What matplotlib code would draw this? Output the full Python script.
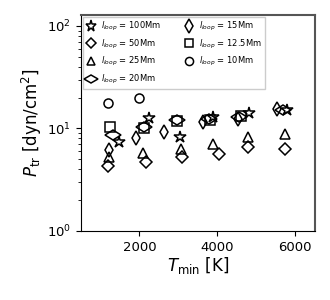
import numpy as np
import matplotlib
matplotlib.use('Agg')
import matplotlib.pyplot as plt
from matplotlib.markers import MarkerStyle
from matplotlib.transforms import Affine2D

# T_min [K] and P_tr [dyn/cm^2] for each loop length
labels = ['100Mm', '50Mm', '25Mm', '20Mm', '15Mm', '12.5Mm', '10Mm']

t_100 = [1480, 2250, 3050, 3900, 4820, 5790]
p_100 = [7.4, 12.8, 8.2, 12.9, 14.3, 15.2]

t_50 = [1190, 2160, 3090, 4030, 4790, 5740]
p_50 = [4.3, 4.7, 5.3, 5.7, 6.6, 6.3]

t_25 = [1220, 2100, 3070, 3890, 4780, 5730]
p_25 = [5.3, 5.8, 6.3, 7.1, 8.3, 8.8]

t_20 = [1330, 2130, 2960, 3780, 4560, 5680]
p_20 = [8.7, 10.4, 12.0, 12.3, 13.0, 15.0]

t_15 = [1220, 1910, 2640, 3640, 4540, 5530]
p_15 = [6.2, 8.1, 9.2, 11.6, 12.5, 15.5]

t_125 = [1250, 2130, 2960, 3810, 4600]
p_125 = [10.3, 10.0, 11.9, 12.0, 13.2]

t_10 = [1190, 2000]
p_10 = [17.6, 20.0]

wide_diamond = MarkerStyle('d', transform=Affine2D().rotate_deg(90))

series = [
    (t_100, p_100, '*'),
    (t_50, p_50, 'D'),
    (t_25, p_25, '^'),
    (t_20, p_20, wide_diamond),
    (t_15, p_15, 'd'),
    (t_125, p_125, 's'),
    (t_10, p_10, 'o'),
]
sizes = [9, 6, 6.5, 8, 7.5, 6.5, 6.5]

fig = plt.figure(figsize=(3.3, 3.0), dpi=100)
ax = fig.add_axes([0.245, 0.23, 0.709, 0.72])

for (t, p, m), lab, ms in zip(series, labels, sizes):
    ax.plot(t, p, linestyle='none', marker=m, markersize=ms,
            markerfacecolor='none', markeredgecolor='black',
            markeredgewidth=1.1, label=r'$l_{loop}$ = ' + lab)

ax.set_yscale('log')
ax.set_xlim(500, 6500)
ax.set_ylim(1, 128)
ax.set_xticks([2000, 4000, 6000])
ax.tick_params(labelsize=9.5)

ax.set_xlabel(r'$T_{\rm min}$ [K]', fontsize=12, labelpad=1)
ax.set_ylabel(r'$P_{\rm tr}$ [dyn/cm$^2$]', fontsize=12, labelpad=2)

for side in ['top', 'right']:
    ax.spines[side].set_color('#555555')
    ax.spines[side].set_linewidth(1.5)

ax.legend(loc='upper left', ncol=2, fontsize=6, fancybox=False,
          edgecolor='0.8', framealpha=1, borderaxespad=0.2,
          labelspacing=0.55, columnspacing=2.8, handletextpad=0.6,
          handlelength=1.2, markerscale=0.9)

plt.savefig('out.png', dpi=100)
